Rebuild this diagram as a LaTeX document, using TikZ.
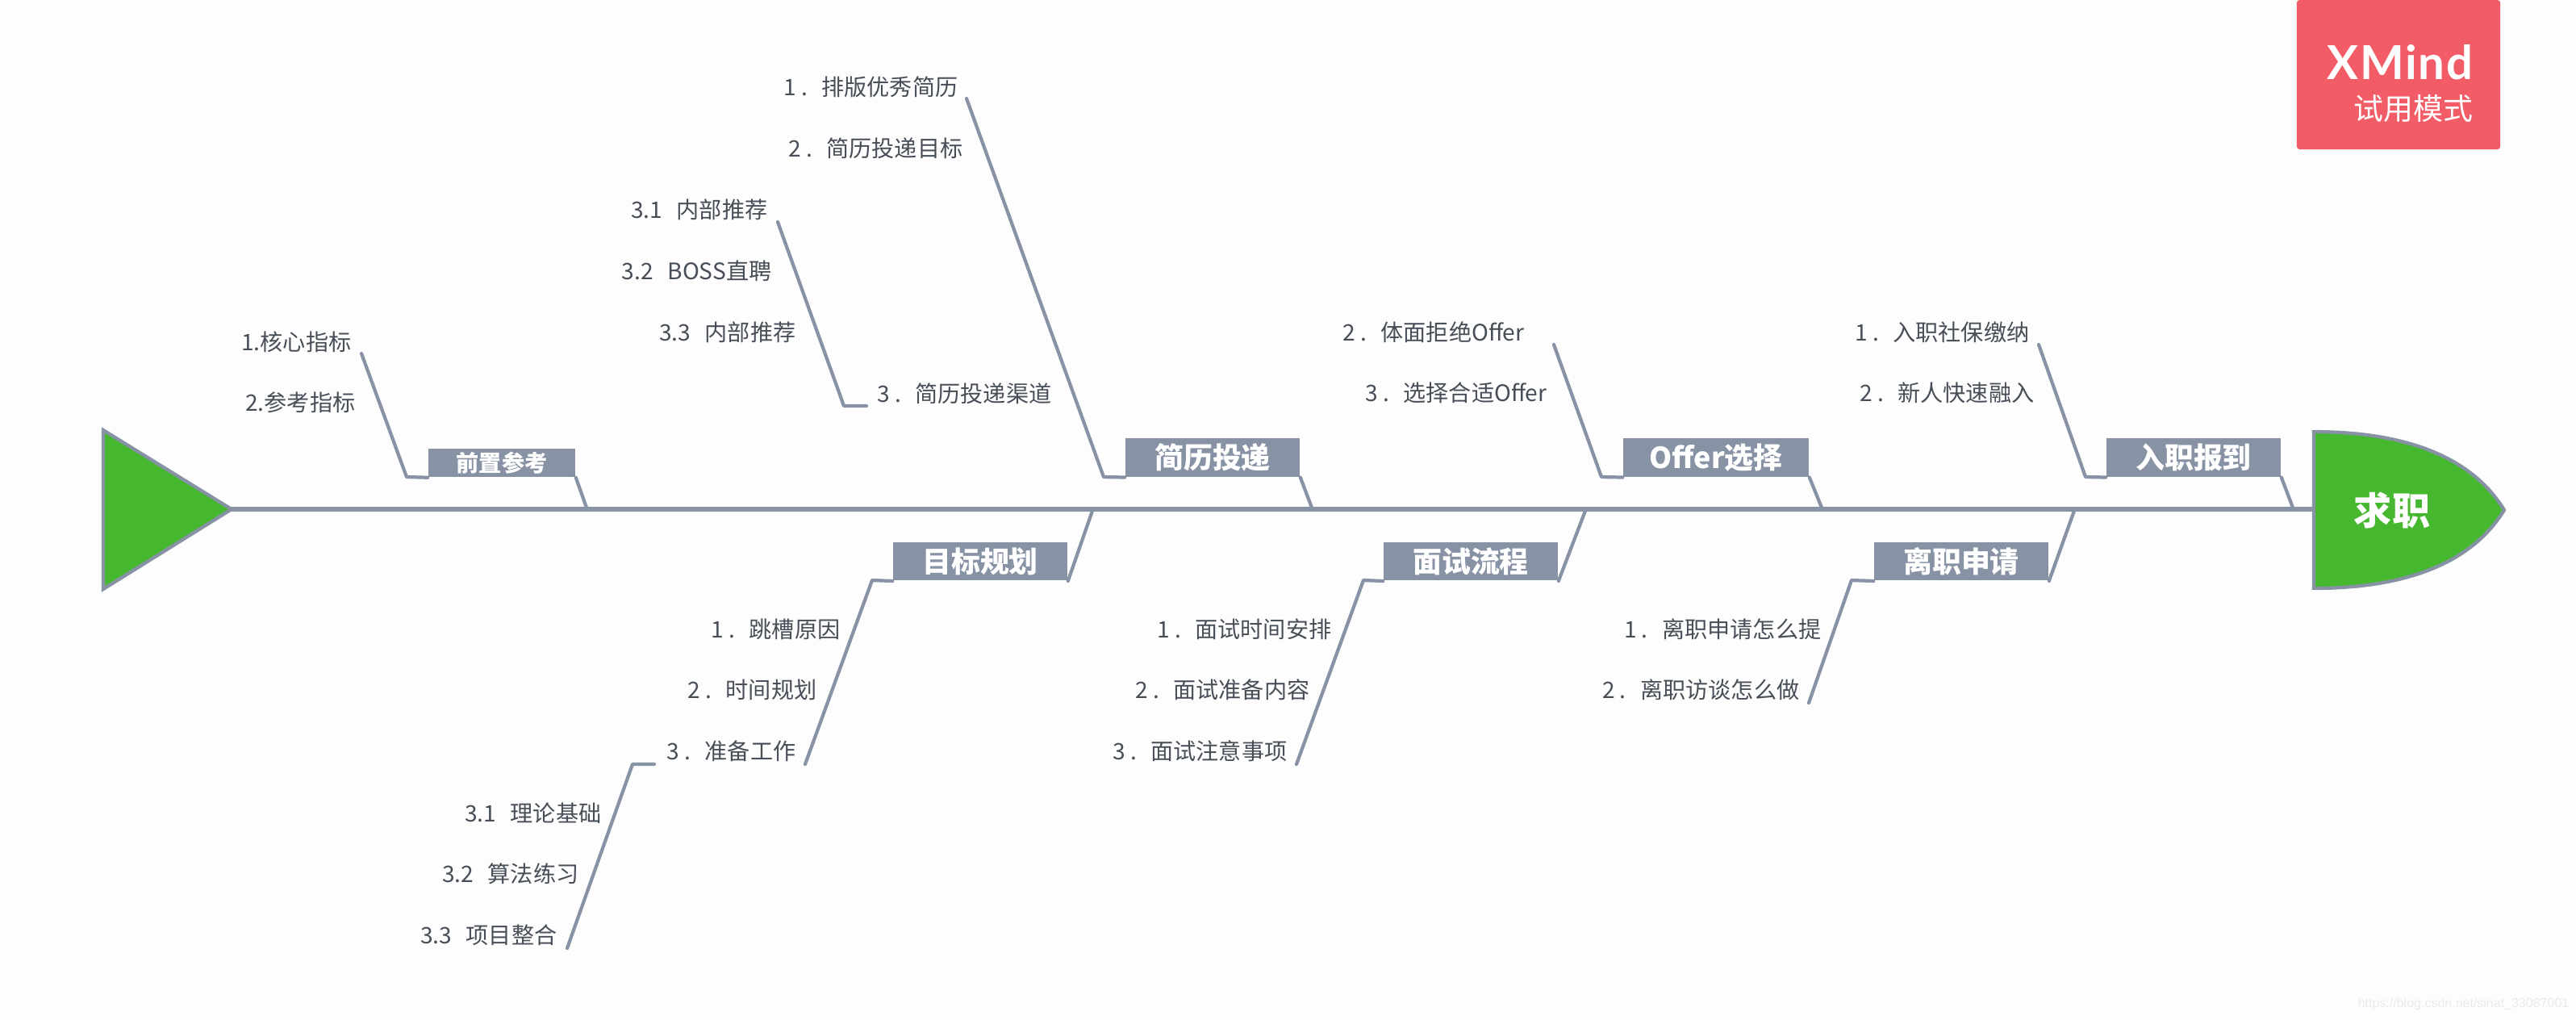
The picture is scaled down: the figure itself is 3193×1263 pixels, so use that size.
\documentclass[tikz,border=0pt]{standalone}
\usepackage{fontspec}
\setmainfont{Noto Sans CJK SC}
\newfontfamily\fuenteMarca[LetterSpace=3]{Lato}
\newfontfamily\fuenteWeb{Liberation Sans}
\usetikzlibrary{positioning}
\definecolor{grisespina}{HTML}{8792A5}
\definecolor{verdecabeza}{HTML}{45B830}
\definecolor{rojomarca}{HTML}{F25C67}
\definecolor{gristexto}{HTML}{474E58}
\definecolor{blancofondo}{HTML}{FDFDFD}
\definecolor{grisweb}{HTML}{EBEBEB}
\tikzset{
  cajaRama/.style={
    fill=grisespina, inner sep=0pt,
    minimum height=0.475cm, minimum width=2.16cm,
    text=white, font=\fontsize{10.2}{12}\selectfont\bfseries
  },
  cajaPequena/.style={cajaRama, minimum height=0.35cm, minimum width=1.82cm,
    font=\fontsize{8}{10}\selectfont\bfseries},
  textoItem/.style={anchor=east, inner sep=0pt, yshift=-0.5pt, text=gristexto,
    font=\fontsize{8}{10}\selectfont},
  lineaRama/.style={draw=grisespina, line width=1.2pt, line cap=round, line join=round},
  lineaEspina/.style={draw=grisespina, line width=1.6pt},
  formaVerde/.style={draw=grisespina, line width=1.2pt, fill=verdecabeza, line join=miter},
}

\begin{document}
\begin{tikzpicture}[x=0.01cm, y=-0.01cm]
    \fill[blancofondo] (0,0) rectangle (3193,1263);

    % espina y extremos
    \coordinate (colaSup) at (128,533);
    \coordinate (colaPunta) at (287,631);
    \coordinate (colaInf) at (128,730);
    \coordinate (cabezaSup) at (2868,535);
    \coordinate (cabezaPunta) at (3104,632);
    \coordinate (cabezaInf) at (2868,729);
    \coordinate (cabezaIzq) at (2868,631);
    \draw[lineaEspina] (colaPunta) -- (cabezaIzq);
    \draw[formaVerde] (colaSup) -- (colaPunta) -- (colaInf) -- cycle;
    \draw[formaVerde] (cabezaSup) .. controls (2970,535) and (3060,560) .. (cabezaPunta)
      .. controls (3060,704) and (2970,729) .. (cabezaInf) -- cycle;
    \node[inner sep=0pt, text=white, font=\fontsize{13.4}{15}\selectfont\bfseries]
      (cabeza) at (2965,632) {求职};

    % cajas de las ramas
    \foreach \nombre/\x/\y/\txt in {
        cajaCV/1503/567/{简历投递},
        cajaMeta/1215/695.5/{目标规划},
        cajaEntrevista/1823/695.5/{面试流程},
        cajaIngreso/2719/567/{入职报到},
        cajaSalida/2431/695.5/{离职申请}
      }{
        \node[cajaRama] (\nombre) at (\x,\y) {\txt};
      }
    \node[cajaRama, minimum width=2.3cm] (cajaOffer) at (2127,567) {Offer选择};
    \node[cajaPequena] (cajaPrevia) at (622,573.5) {前置参考};

    % ramas: fin libre, codo, caja y union con la espina
    \foreach \caja/\xf/\yf/\xc/\yc/\xu/\yu in {
        cajaPrevia/448/438/504/591/727/629,
        cajaCV/1198/122/1368/591/1626/629,
        cajaOffer/1926/427/1985/591/2258/629,
        cajaIngreso/2527/427/2585/591/2842/629,
        cajaMeta/998/947/1081/719/1354/633,
        cajaEntrevista/1607/947/1690/719/1965/633,
        cajaSalida/2242/871/2295/719/2571/633
      }{
        \coordinate (\caja Fin) at (\xf,\yf);
        \coordinate (\caja Codo) at (\xc,\yc);
        \coordinate (\caja Union) at (\xu,\yu);
        \draw[lineaRama] (\caja Fin) -- (\caja Codo) -- (\caja.south west);
        \draw[lineaRama] (\caja.south east) -- (\caja Union);
      }

    % textos de las ramas
    \foreach \nombre/\x/\y/\txt in {
        itemNucleo/436/422/{1.核心指标},
        itemRef/441/497/{2.参考指标},
        itemCVa/1188/106/{1 .\hspace{5pt}排版优秀简历},
        itemCVb/1194/182/{2 .\hspace{5pt}简历投递目标},
        itemCVc/1304/486/{3 .\hspace{5pt}简历投递渠道},
        itemCanalA/952/258/{3.1\hspace{5pt}内部推荐},
        itemCanalB/957/334/{3.2\hspace{5pt}BOSS直聘},
        itemCanalC/987/410/{3.3\hspace{5pt}内部推荐},
        itemOfferA/1890/410/{2 .\hspace{5pt}体面拒绝Offer},
        itemOfferB/1918/485/{3 .\hspace{5pt}选择合适Offer},
        itemIngA/2516/410/{1 .\hspace{5pt}入职社保缴纳},
        itemIngB/2522/485/{2 .\hspace{5pt}新人快速融入},
        itemMetaA/1042/778/{1 .\hspace{5pt}跳槽原因},
        itemMetaB/1013/853/{2 .\hspace{5pt}时间规划},
        itemMetaC/987/929/{3 .\hspace{5pt}准备工作},
        itemBaseA/746/1006/{3.1\hspace{5pt}理论基础},
        itemBaseB/718/1081/{3.2\hspace{5pt}算法练习},
        itemBaseC/691/1157/{3.3\hspace{5pt}项目整合},
        itemEntA/1651/778/{1 .\hspace{5pt}面试时间安排},
        itemEntB/1624/853/{2 .\hspace{5pt}面试准备内容},
        itemEntC/1596/929/{3 .\hspace{5pt}面试注意事项},
        itemSalA/2258/778/{1 .\hspace{5pt}离职申请怎么提},
        itemSalB/2231/853/{2 .\hspace{5pt}离职访谈怎么做}
      }{
        \node[textoItem] (\nombre) at (\x,\y) {\txt};
      }

    % sub-ramas
    \coordinate (subCanalFin) at (964,275);
    \coordinate (subCanalCodo) at (1046,503);
    \coordinate (subCanalIni) at (1074,503);
    \draw[lineaRama] (subCanalFin) -- (subCanalCodo) -- (subCanalIni);
    \coordinate (subBaseFin) at (703,1175);
    \coordinate (subBaseCodo) at (784,947);
    \coordinate (subBaseIni) at (811,947);
    \draw[lineaRama] (subBaseFin) -- (subBaseCodo) -- (subBaseIni);

    % marca de prueba
    \node[fill=rojomarca, rounded corners=1pt, inner sep=0pt,
      minimum width=2.52cm, minimum height=1.85cm] (marca) at (2973,92.5) {};
    \node[anchor=east, inner sep=0pt, text=white, font=\fuenteMarca\fontsize{16.5}{18}\selectfont\bfseries]
      (marcaNombre) at (3066,77) {XMind};
    \node[anchor=east, inner sep=0pt, text=white, font=\fontsize{10.5}{12}\selectfont]
      (marcaModo) at (3066,135) {试用模式};
    \node[anchor=east, inner sep=0pt, text=grisweb, font=\fuenteWeb\fontsize{4.55}{5}\selectfont]
      (web) at (3185,1244) {https://blog.csdn.net/sinat\_33087001};
\end{tikzpicture}
\end{document}
